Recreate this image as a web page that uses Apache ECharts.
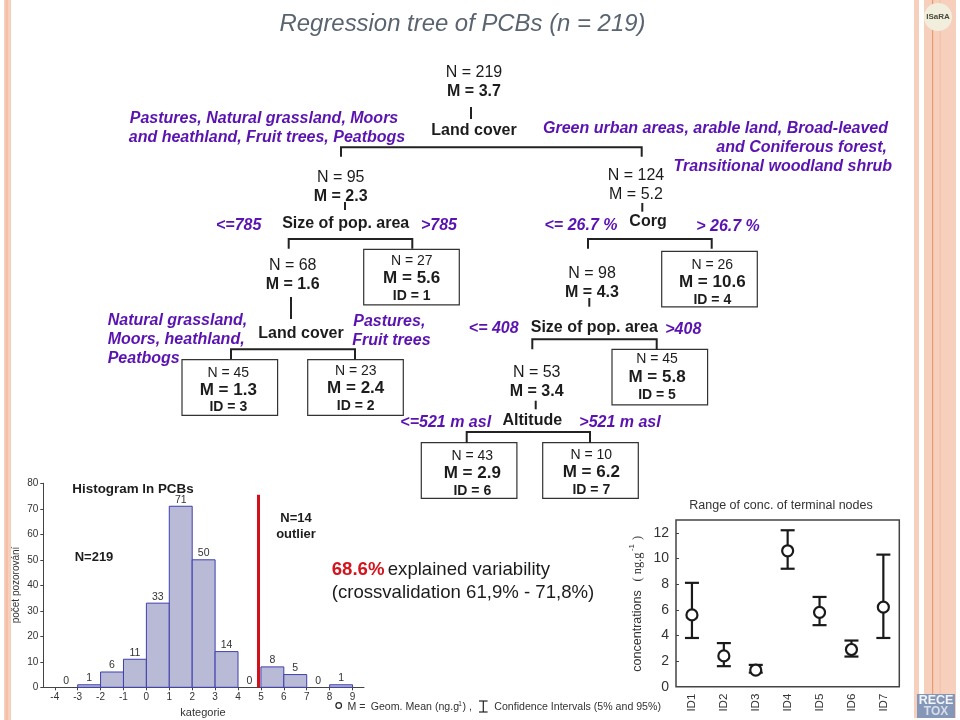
<!DOCTYPE html>
<html lang="en">
<head>
  <meta charset="utf-8">
  <title>Regression tree of PCBs</title>
  <style>
    html, body { margin: 0; padding: 0; background: #fff; }
    #chart { width: 960px; height: 720px; }
  </style>
  <script src="https://cdn.jsdelivr.net/npm/echarts@6/dist/echarts.min.js"></script>
</head>
<body>
<div id="chart"></div>
<script>
  // histogram of ln PCBs
  const binStarts = [-4, -3, -2, -1, 0, 1, 2, 3, 4, 5, 6, 7, 8];
  const binCounts = [0, 1, 6, 11, 33, 71, 50, 14, 0, 8, 5, 0, 1];
  const histXTicks = [-4, -3, -2, -1, 0, 1, 2, 3, 4, 5, 6, 7, 8, 9];
  const outlierCut = 4.9;
  const outlierTop = 75.5;

  // range of conc. of terminal nodes
  const idLabels = ['ID1', 'ID2', 'ID3', 'ID4', 'ID5', 'ID6', 'ID7'];
  const geoMeans = [5.6, 2.4, 1.3, 10.6, 5.8, 2.9, 6.2];
  const ciLow = [3.8, 1.6, 1.1, 9.2, 4.8, 2.35, 3.8];
  const ciHigh = [8.1, 3.4, 1.7, 12.2, 7.0, 3.6, 10.3];
  const concTicks = [0, 2, 4, 6, 8, 10, 12];

  // tree nodes: N and geometric mean
  const rootNode = [219, 3.7];
  const leftNode = [95, 2.3];
  const rightNode = [124, 5.2];
  const node68 = [68, 1.6];
  const node98 = [98, 4.3];
  const node53 = [53, 3.4];
  // terminal nodes: N, mean, ID
  const term1 = [27, 5.6, 1];
  const term2 = [23, 2.4, 2];
  const term3 = [45, 1.3, 3];
  const term4 = [26, 10.6, 4];
  const term5 = [45, 5.8, 5];
  const term6 = [43, 2.9, 6];
  const term7 = [10, 6.2, 7];

  const FONT = '"Liberation Sans", Arial, sans-serif';
  const PURPLE = '#5a12b0';
  const INK = '#1c1c1c';
  const STRIPE = '#f7d0bd';

  let g = [];

  function text(str, x, y, size, opts) {
    opts = opts || {};
    g.push({
      type: 'text', x: x, y: y, rotation: opts.rotation || 0, z: 10,
      style: {
        text: str, fontFamily: opts.family || FONT, fontSize: size,
        fontWeight: opts.weight || 'normal', fontStyle: opts.style || 'normal',
        fill: opts.color || INK, align: opts.align || 'center', verticalAlign: 'middle'
      }
    });
  }
  function purple(str, x, y, align) {
    text(str, x, y, 16, { weight: 'bold', style: 'italic', color: PURPLE, align: align || 'center' });
  }
  function bold(str, x, y) { text(str, x, y, 16, { weight: 'bold' }); }
  function line(x1, y1, x2, y2, w) {
    g.push({ type: 'line', z: 9, shape: { x1: x1, y1: y1, x2: x2, y2: y2 }, style: { stroke: '#222', lineWidth: w || 2 } });
  }
  function rect(x, y, w, h, fill, stroke) {
    g.push({ type: 'rect', z: 1, shape: { x: x, y: y, width: w, height: h }, style: { fill: fill, stroke: stroke || null, lineWidth: 1.2 } });
  }
  // two-legged connector under a split
  function bracket(x1, x2, y, drop) {
    g.push({
      type: 'polyline', z: 9,
      shape: { points: [[x1, y + drop], [x1, y], [x2, y], [x2, y + drop]] },
      style: { stroke: '#222', lineWidth: 2, fill: null }
    });
  }
  function node(n, x, y) {
    text('N = ' + n[0], x, y, 16);
    text('M = ' + n[1].toFixed(1), x, y + 19, 16, { weight: 'bold' });
  }
  function terminal(t, bx, by, yN, yM, yI, cx) {
    rect(bx, by, 95.6, 55.6, '#fff', '#333');
    text('N = ' + t[0], cx, yN, 14);
    text('M = ' + t[1].toFixed(1), cx, yM, 17, { weight: 'bold' });
    text('ID = ' + t[2], cx, yI, 14, { weight: 'bold' });
  }

  // side stripes and logos
  rect(4, 0, 7, 720, STRIPE);
  rect(5.5, 0, 2.5, 720, '#f5bfa8');
  rect(914, 0, 5, 718, STRIPE);
  rect(924, 0, 32, 718, STRIPE);
  rect(932, 0, 1.2, 718, '#ec9a6c');
  rect(939.5, 0, 1.2, 718, '#f2bfa6');
  g.push({ type: 'circle', z: 2, shape: { cx: 938, cy: 17, r: 14 }, style: { fill: '#f1eedd' } });
  text('ISaRA', 938, 17, 8, { weight: 'bold', color: '#4a4a3a' });
  rect(917, 694, 38, 24, '#8497b8');
  text('RECE', 936, 700.5, 12.5, { weight: 'bold', color: '#f2f4f8' });
  text('TOX', 936, 711.5, 12, { weight: 'bold', color: '#d8dde8' });

  text('Regression tree of PCBs (n = 219)', 462.5, 24, 23.9, { style: 'italic', color: '#5a6470' });

  // root split
  node(rootNode, 474, 73);
  line(471, 107, 471, 119);
  bold('Land cover', 474, 131);
  bracket(341, 641.7, 147.3, 9.5);
  purple('Pastures, Natural grassland, Moors', 264, 118.7);
  purple('and heathland, Fruit trees, Peatbogs', 267, 138);
  purple('Green urban areas, arable land, Broad-leaved', 888, 128.7, 'right');
  purple('and Coniferous forest,', 887, 147.7, 'right');
  purple('Transitional woodland shrub', 892, 166.7, 'right');

  // left branch
  node(leftNode, 340.7, 177.7);
  line(345, 202, 345, 210);
  bold('Size of pop. area', 345.7, 224);
  purple('<=785', 238.7, 225.7);
  purple('>785', 439, 226);
  bracket(288.7, 412.3, 239, 9.7);
  terminal(term1, 363.7, 249.3, 261, 278.7, 296, 411.7);
  node(node68, 292.7, 265.7);
  line(291, 297, 291, 319);
  bold('Land cover', 301, 333.3);
  bracket(231, 355, 349.3, 10);
  purple('Natural grassland,', 107.7, 320.7, 'left');
  purple('Moors, heathland,', 107.7, 340, 'left');
  purple('Peatbogs', 107.7, 359, 'left');
  purple('Pastures,', 353.3, 321.7, 'left');
  purple('Fruit trees', 352.3, 340.7, 'left');
  terminal(term3, 182, 359.7, 372.7, 390, 407.3, 228.3);
  terminal(term2, 307.7, 359.7, 371, 388.7, 406, 355.7);

  // right branch
  text('N = ' + rightNode[0], 636, 176, 16);
  text('M = ' + rightNode[1].toFixed(1), 636, 195, 16);
  line(642.3, 203, 642.3, 211.7);
  bold('Corg', 648, 221.7);
  purple('<= 26.7 %', 581, 226);
  purple('> 26.7 %', 728, 227);
  bracket(588, 711.7, 239, 9.7);
  terminal(term4, 661.7, 251.3, 264.7, 282, 299.7, 712.3);
  node(node98, 592, 274);
  line(589.3, 298, 589.3, 306.7);
  bold('Size of pop. area', 594.3, 327.3);
  purple('<= 408', 493.7, 328.3);
  purple('>408', 683.3, 329.3);
  bracket(532.3, 656.7, 339.3, 10);
  terminal(term5, 612, 349.3, 359.3, 377, 394.7, 657);
  node(node53, 536.7, 372.3);
  line(535.7, 400.7, 535.7, 409.3);
  bold('Altitude', 532.3, 421);
  purple('<=521 m asl', 445.7, 422.7);
  purple('>521 m asl', 620, 422.7);
  bracket(466.7, 590, 432, 10.7);
  terminal(term6, 421.3, 442.7, 455.7, 473.3, 490.7, 472.3);
  terminal(term7, 542.7, 442.7, 455, 472.7, 490, 591.3);

  // notes around the histogram
  text('Histogram ln PCBs', 133, 489, 13.4, { weight: 'bold' });
  text('N=219', 94, 557.7, 13, { weight: 'bold' });
  text('N=14', 296, 518, 13, { weight: 'bold' });
  text('outlier', 296, 534, 13, { weight: 'bold' });
  text('počet pozorování', 16, 585, 10, { rotation: Math.PI / 2, color: '#333' });
  text('kategorie', 203, 712.5, 11, { color: '#333' });

  // explained variability
  g.push({
    type: 'text', x: 331.7, y: 570, z: 10,
    style: {
      text: '{r|68.6%} {k|explained variability}',
      verticalAlign: 'middle', align: 'left',
      rich: {
        r: { fontFamily: FONT, fontSize: 18.6, fontWeight: 'bold', fill: '#d4141c' },
        k: { fontFamily: FONT, fontSize: 18.6, fill: INK }
      }
    }
  });
  text('(crossvalidation 61,9% - 71,8%)', 331.7, 593, 18.6, { align: 'left' });

  // legend row
  g.push({ type: 'circle', z: 10, shape: { cx: 338.7, cy: 705.5, r: 2.8 }, style: { fill: '#fff', stroke: '#222', lineWidth: 1.2 } });
  text('M =', 347.5, 707.5, 10.6, { align: 'left', color: '#333' });
  text('Geom. Mean (ng.g', 370.7, 707.5, 10.6, { align: 'left', color: '#333' });
  text('-1', 456, 704.5, 6.5, { align: 'left', color: '#333' });
  text(') ,', 462.5, 707.5, 10.6, { align: 'left', color: '#333' });
  line(483.3, 701, 483.3, 712, 1.2);
  line(479, 701, 487.6, 701, 1.2);
  line(479, 712, 487.6, 712, 1.2);
  text('Confidence Intervals (5% and 95%)', 494.3, 707.5, 10.6, { align: 'left', color: '#333' });

  // titles of the right panel
  text('Range of conc. of terminal nodes', 781, 506, 12.5, { color: '#333' });
  text('concentrations', 637.3, 631, 12.5, { rotation: Math.PI / 2, color: '#333' });
  text('( ng.g', 637.3, 567, 12.5, { rotation: Math.PI / 2, family: '"Liberation Serif", serif', color: '#333' });
  text('-1', 632, 547.5, 8, { rotation: Math.PI / 2, color: '#333' });
  text(')', 637.3, 538, 12.5, { rotation: Math.PI / 2, family: '"Liberation Serif", serif', color: '#333' });

  function renderBin(params, api) {
    let lo = api.coord([api.value(0), 0]);
    let hi = api.coord([api.value(1), api.value(2)]);
    let children = [{
      type: 'text', x: (lo[0] + hi[0]) / 2, y: hi[1] - 1,
      style: {
        text: String(api.value(2)), align: 'center', verticalAlign: 'bottom',
        fontFamily: FONT, fontSize: 10.5, fill: '#333'
      }
    }];
    if (api.value(2) > 0) {
      children.unshift({
        type: 'rect',
        shape: { x: lo[0], y: hi[1], width: hi[0] - lo[0], height: lo[1] - hi[1] },
        style: { fill: '#b9bad6', stroke: '#3f3fae', lineWidth: 1 }
      });
    }
    return { type: 'group', children: children };
  }

  function renderCI(params, api) {
    let x = api.value(0);
    let a = api.coord([x, api.value(1)]);
    let b = api.coord([x, api.value(2)]);
    let st = { stroke: '#1a1a1a', lineWidth: 2.2 };
    return {
      type: 'group',
      children: [
        { type: 'line', shape: { x1: a[0], y1: a[1], x2: b[0], y2: b[1] }, style: st },
        { type: 'line', shape: { x1: a[0] - 7, y1: a[1], x2: a[0] + 7, y2: a[1] }, style: st },
        { type: 'line', shape: { x1: b[0] - 7, y1: b[1], x2: b[0] + 7, y2: b[1] }, style: st }
      ]
    };
  }

  let chart = echarts.init(document.getElementById('chart'));
  chart.setOption({
    animation: false,
    backgroundColor: '#fff',
    textStyle: { fontFamily: FONT },
    grid: [
      { left: 43.3, top: 483.3, width: 320.7, height: 204 },
      { left: 676, top: 520, width: 223.3, height: 166.7, show: true, borderColor: '#444', borderWidth: 1.5, backgroundColor: '#fff' }
    ],
    xAxis: [
      {
        type: 'value', gridIndex: 0, min: -4.5, max: 9.5,
        splitLine: { show: false },
        axisLine: { onZero: false, lineStyle: { color: '#444' } },
        axisTick: { length: 3, customValues: histXTicks, lineStyle: { color: '#444' } },
        axisLabel: { customValues: histXTicks, margin: 5, fontSize: 10, color: '#333' }
      },
      {
        type: 'category', gridIndex: 1, data: idLabels,
        axisLine: { show: false },
        axisTick: { alignWithLabel: true, inside: true, length: 3, lineStyle: { color: '#444' } },
        axisLabel: { rotate: 90, margin: 7, fontSize: 11.5, color: '#333' }
      }
    ],
    yAxis: [
      {
        type: 'value', gridIndex: 0, min: 0, max: 80, interval: 10,
        splitLine: { show: false },
        axisLine: { show: true, onZero: false, lineStyle: { color: '#444' } },
        axisTick: { show: true, length: 3, lineStyle: { color: '#444' } },
        axisLabel: { margin: 5, fontSize: 10, color: '#333' }
      },
      {
        type: 'value', gridIndex: 1, min: 0, max: 13,
        splitLine: { show: false },
        axisLine: { show: false },
        axisTick: { show: true, inside: true, length: 3, customValues: concTicks, lineStyle: { color: '#444' } },
        axisLabel: { customValues: concTicks, margin: 7, fontSize: 14, color: '#333' }
      }
    ],
    series: [
      {
        type: 'custom', xAxisIndex: 0, yAxisIndex: 0, silent: true, clip: false,
        data: binStarts.map((b, i) => [b, b + 1, binCounts[i]]),
        encode: { x: [0, 1], y: 2 },
        renderItem: renderBin,
        markLine: {
          silent: true, symbol: 'none', animation: false,
          label: { show: false },
          lineStyle: { color: '#d3101a', width: 3, type: 'solid' },
          data: [[{ coord: [outlierCut, 0] }, { coord: [outlierCut, outlierTop] }]]
        }
      },
      {
        type: 'custom', xAxisIndex: 1, yAxisIndex: 1, silent: true,
        data: idLabels.map((id, i) => [id, ciLow[i], ciHigh[i]]),
        encode: { x: 0, y: [1, 2] },
        renderItem: renderCI
      },
      {
        type: 'scatter', xAxisIndex: 1, yAxisIndex: 1, silent: true, z: 5,
        data: idLabels.map((id, i) => [id, geoMeans[i]]),
        symbol: 'circle', symbolSize: 11,
        itemStyle: { color: '#fff', borderColor: '#1a1a1a', borderWidth: 2.2, opacity: 1 }
      }
    ],
    graphic: g
  });
</script>
</body>
</html>
